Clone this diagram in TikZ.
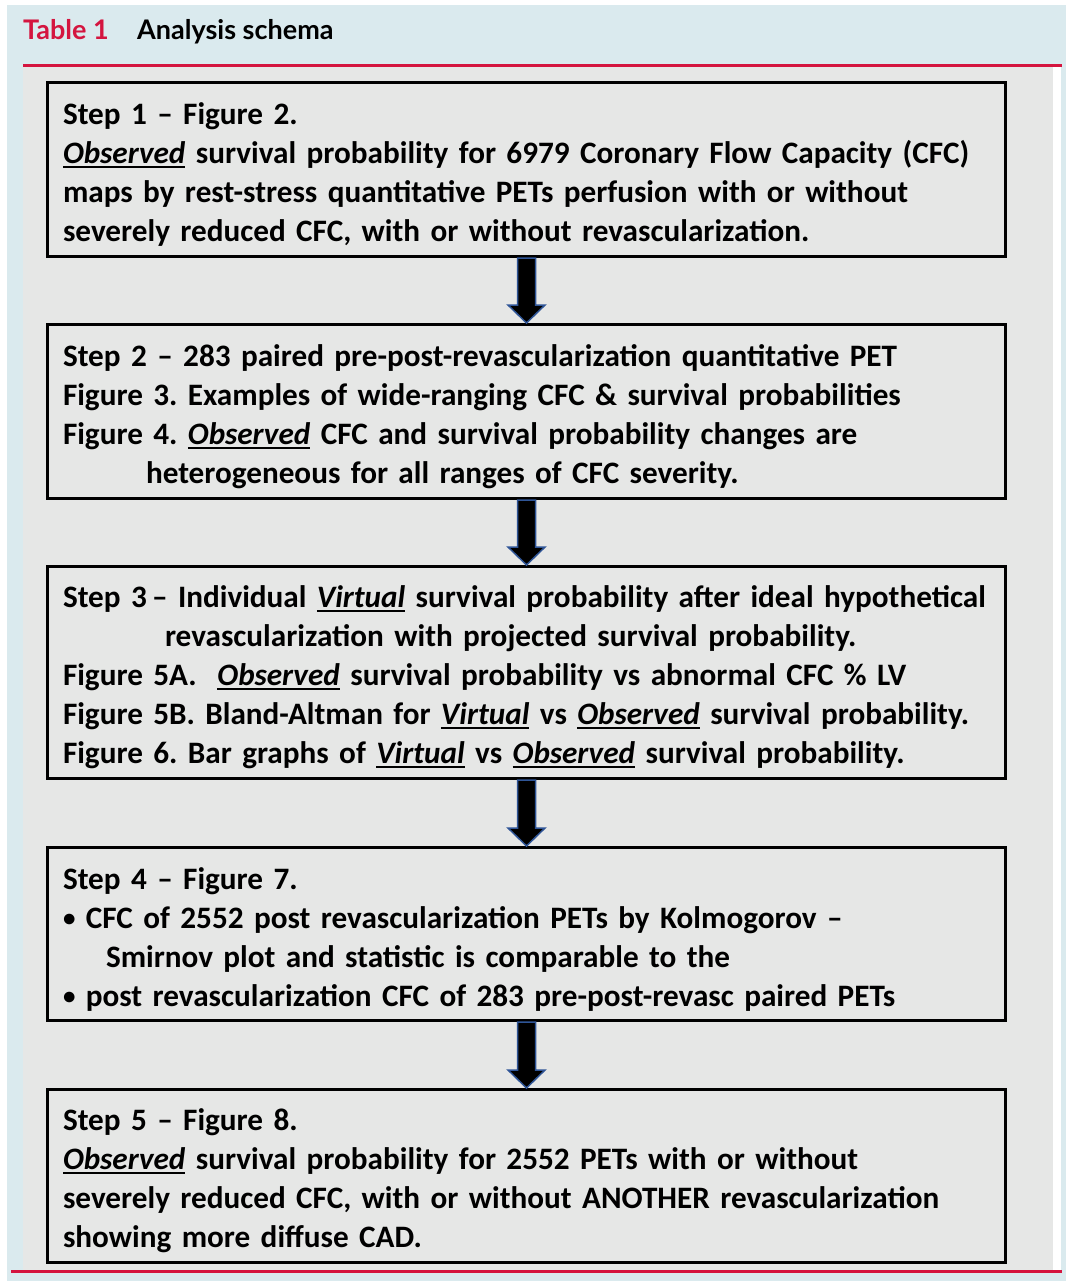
\documentclass[tikz,border=0pt]{standalone}
\usepackage{fontspec}
\setmainfont{Carlito}
\newfontfamily\schemaHeadFont{Lato}
\usetikzlibrary{positioning,calc,shadows}
\definecolor{schemaBlue}{HTML}{DAEAEE}
\definecolor{schemaGrey}{HTML}{E6E7E6}
\definecolor{schemaRed}{HTML}{D4153F}
\definecolor{schemaArrowEdge}{HTML}{2F5597}
\newsavebox{\schemaWordBox}
\newcommand{\schemaWord}[1]{\sbox{\schemaWordBox}{\itshape #1}\leavevmode\rlap{\rule[-0.14em]{\wd\schemaWordBox}{0.07em}}\usebox{\schemaWordBox}}
\newcommand{\schemaIndent}[1]{\hspace*{#1pt}}
\newcommand{\schemaBullet}{\raisebox{2pt}{\fontsize{25}{25}\selectfont\textbullet}\ }
\newcommand{\schemaArrow}[2]{\draw[schemaFlow] ($(#1.south)+(-9,0)$) |- ($(#2.north)+(-18.5,-18)$) -- (#2.north) -- ($(#2.north)+(18.5,-18)$) -| ($(#1.south)+(9,0)$) -- cycle;}
\tikzset{
  stepBox/.style={draw=black, line width=3pt, fill=schemaGrey, minimum width=958pt, text width=927pt, align=left, inner xsep=15.5pt, inner ysep=0pt, font=\fontsize{31.2}{39}\selectfont\bfseries\frenchspacing, execute at begin node=\rule{0pt}{32pt}, drop shadow={shadow xshift=1.5pt, shadow yshift=-1.5pt, fill=black!60, opacity=0.8}},
  schemaFlow/.style={fill=black, draw=schemaArrowEdge, line width=1.5pt, line join=miter},
  headText/.style={anchor=base west, inner sep=0pt, font=\schemaHeadFont\bfseries\fontsize{27}{30}\selectfont}
}
\begin{document}
\begin{tikzpicture}[x=1pt,y=-1pt,node distance=65pt]
\useasboundingbox (0,0) rectangle (1066,1281);
\fill[white] (0,0) rectangle (1066,1281);
\fill[schemaBlue] (7,5) rectangle (1066,1281);
\fill[white] (23,67) rectangle (1061,1270);
\fill[schemaGrey] (23,67) rectangle (1053,1270);
\draw[schemaRed, line width=3pt] (23,66) -- (1062,66);
\draw[schemaRed, line width=3pt] (11,1271.5) -- (1062,1271.5);
\node[headText, text=schemaRed] (tableNum) at (23,40) {Table 1};
\node[headText] (tableTitle) at (137,40) {Analysis schema};

\node[stepBox, minimum height=174pt] (step1) at (526.5,169.5) {Step 1 -- Figure 2.\\
\schemaWord{Observed} survival probability for 6979 Coronary Flow Capacity (CFC)\\
maps by rest-stress quantitative PETs perfusion with or without\\
severely reduced CFC, with or without revascularization.};
\node[stepBox, minimum height=174pt, below=of step1] (step2) {Step 2 -- 283 paired pre-post-revascularization quantitative PET\\
Figure 3. Examples of wide-ranging CFC \& survival probabilities\\
Figure 4. \schemaWord{Observed} CFC and survival probability changes are\\
\schemaIndent{83}heterogeneous for all ranges of CFC severity.};
\node[stepBox, minimum height=212pt, below=of step2] (step3) {\mbox{Step 3\,--\ Individual \schemaWord{Virtual} survival probability after ideal hypothetical}\\
\schemaIndent{102}revascularization with projected survival probability.\\
Figure 5A.\ \ \schemaWord{Observed} survival probability vs abnormal CFC \% LV\\
Figure 5B. Bland-Altman for \schemaWord{Virtual} vs \schemaWord{Observed} survival probability.\\
Figure 6. Bar graphs of \schemaWord{Virtual} vs \schemaWord{Observed} survival probability.};
\node[stepBox, minimum height=173pt, below=66pt of step3] (step4) {Step 4 -- Figure 7.\\
\schemaBullet CFC of 2552 post revascularization PETs by Kolmogorov --\\
\schemaIndent{43}Smirnov plot and statistic is comparable to the\\
\schemaBullet post revascularization CFC of 283 pre-post-revasc paired PETs};
\node[stepBox, minimum height=173pt, below=66pt of step4] (step5) {Step 5 -- Figure 8.\\
\schemaWord{Observed} survival probability for 2552 PETs with or without\\
severely reduced CFC, with or without ANOTHER revascularization\\
showing more diffuse CAD.};

\foreach \from/\to in {step1/step2,step2/step3,step3/step4,step4/step5}
  \schemaArrow{\from}{\to};
\end{tikzpicture}
\end{document}
